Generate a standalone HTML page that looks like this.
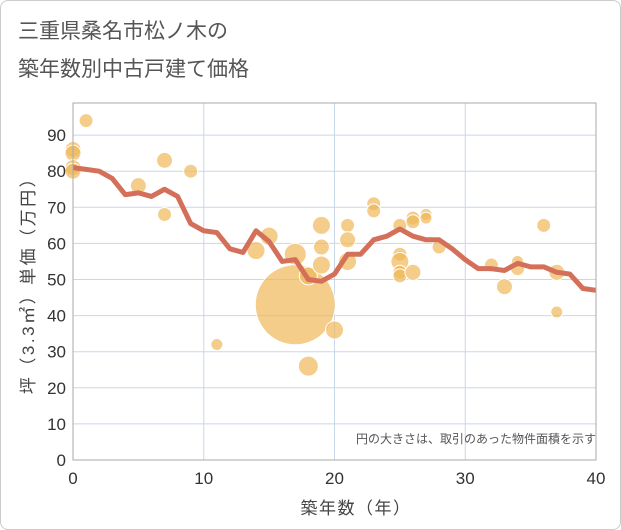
<!DOCTYPE html>
<html><head><meta charset="utf-8"><style>
body{margin:0;background:#fff;}
.wrap{width:619px;height:528px;border:1px solid #ccc;border-radius:8px;position:relative;font-family:"Liberation Sans","Noto Sans CJK JP",sans-serif;overflow:hidden}
</style></head><body>
<div class="wrap">
<svg width="621" height="530" style="position:absolute;left:-1px;top:-1px">
<text x="18" y="38" font-size="21" fill="#555" font-family="Liberation Sans, Noto Sans CJK JP, sans-serif">三重県桑名市松ノ木の</text>
<text x="18" y="76" font-size="21" fill="#555" font-family="Liberation Sans, Noto Sans CJK JP, sans-serif">築年数別中古戸建て価格</text>
<g id="grid"></g><g id="bubbles"></g><g id="line"></g><g id="axes"></g>
<text x="596" y="443" font-size="12" fill="#555" text-anchor="end" font-family="Liberation Sans, Noto Sans CJK JP, sans-serif">円の大きさは、取引のあった物件面積を示す</text>
<text x="356" y="514" font-size="17" fill="#444" text-anchor="middle" letter-spacing="1.5" font-family="Liberation Sans, Noto Sans CJK JP, sans-serif">築年数（年）</text>
<text transform="translate(34,281) rotate(-90)" font-size="17" fill="#444" text-anchor="middle" letter-spacing="2.5" font-family="Liberation Sans, Noto Sans CJK JP, sans-serif">坪（3.3㎡）単価（万円）</text>
</svg>
</div>
<script>
const xTicks=[0,10,20,30,40];
const yTicks=[0,10,20,30,40,50,60,70,80,90];
const lineX=[0,1,2,3,4,5,6,7,8,9,10,11,12,13,14,15,16,17,18,19,20,21,22,23,24,25,26,27,28,29,30,31,32,33,34,35,36,37,38,39,40];
const lineY=[81,80.5,80,78,73.5,74,73,75,73,65.5,63.5,63,58.5,57.5,63.5,60.5,55,55.5,50,49.5,51.5,57,57,61,62,64,62,61,61,58.5,55.5,53,53,52.5,54.5,53.5,53.5,52,51.5,47.5,47];
const bubX=[0,0,0,0,1,5,7,7,9,11,14,15,17,17,18,18,19,19,19,20,21,21,21,23,23,25,25,25,25,25,26,26,26,27,27,28,32,33,34,34,36,37,37];
const bubY=[86,85,81,80,94,76,83,68,80,32,58,62,57,43,51,26,65,59,54,36,65,61,55,71,69,65,57,55,52,51,67,66,52,68,67,59,54,48,55,53,65,52,41];
const bubR=[8,8,8,8,7,8,8,7,7,6,9,9,11,40,9,10,9,8,9,9,7,8,9,7,7,7,7,9,7,7,7,7,8,6,6,7,7,8,6,7,7,8,6];
const X0=73,X1=596,Y0=460,YT=103;
const sx=v=>X0+(X1-X0)*v/40, sy=v=>Y0-v*3.61;
const NS='http://www.w3.org/2000/svg';
function mk(p,t,a){const e=document.createElementNS(NS,t);for(const k in a)e.setAttribute(k,a[k]);p.appendChild(e);return e;}
const g=document.getElementById('grid'),ax=document.getElementById('axes');
xTicks.forEach(v=>{const l=mk(g,'line',{x1:sx(v),x2:sx(v),y1:YT,y2:Y0,stroke:'#c8d8e8'});

const t=mk(ax,'text',{x:sx(v),y:Y0+24,'font-size':17,fill:'#333','text-anchor':'middle'});t.textContent=v;
});
yTicks.forEach(v=>{const l=mk(g,'line',{x1:X0,x2:X1,y1:sy(v),y2:sy(v),stroke:'#c8d8e8'});

const t=mk(ax,'text',{x:X0-7,y:sy(v)+6,'font-size':17,fill:'#333','text-anchor':'end'});t.textContent=v;
});
const fr=mk(ax,'rect',{x:X0,y:YT,width:X1-X0,height:Y0-YT,fill:'none',stroke:'#aaa'});

const bg=document.getElementById('bubbles');
bubX.forEach((v,i)=>{const c=mk(bg,'circle',{cx:sx(v),cy:sy(bubY[i]),r:bubR[i],fill:'#f0b85a','fill-opacity':0.7,stroke:'#fff','stroke-width':1});
});
const p=mk(document.getElementById('line'),'polyline',{points:lineX.map((v,i)=>sx(v)+','+sy(lineY[i])).join(' '),fill:'none',stroke:'#d4705a','stroke-width':5,'stroke-linejoin':'round'});

</script>
</body></html>
